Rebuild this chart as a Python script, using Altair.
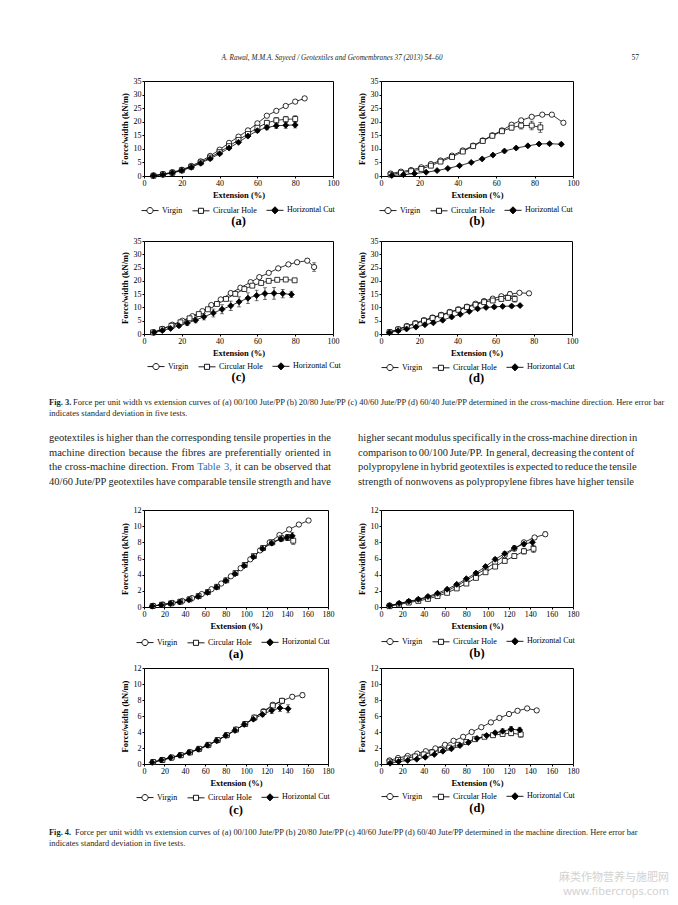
import altair as alt
import pandas as pd

NAMES = ["Virgin", "Circular Hole", "Horizontal Cut"]

# ---------------- Fig. 3 : cross-machine direction ----------------
# (a) 00/100 Jute/PP
f3a_x = [[5, 10, 15, 20, 25, 30, 35, 40, 45, 50, 55, 60, 65, 70, 75, 80, 85],
         [5, 10, 15, 20, 25, 30, 35, 40, 45, 50, 55, 60, 65, 70, 75, 80],
         [5, 10, 15, 20, 25, 30, 35, 40, 45, 50, 55, 60, 65, 70, 75, 80]]
f3a_y = [[0.2, 0.7, 1.4, 2.3, 3.7, 5.4, 7.4, 9.7, 12.2, 14.5, 16.8, 19.4, 22.2, 24.0, 25.8, 27.4, 28.6],
         [0.1, 0.6, 1.2, 2.1, 3.4, 5.0, 6.8, 8.8, 11.0, 13.3, 15.5, 17.8, 19.6, 20.5, 20.9, 21.0],
         [0.1, 0.5, 1.1, 2.0, 3.2, 4.7, 6.4, 8.2, 10.3, 12.4, 14.7, 16.7, 17.9, 18.5, 18.7, 18.8]]
f3a_e = [[0.1, 0.1, 0.15, 0.2, 0.2, 0.25, 0.3, 0.3, 0.35, 0.4, 0.4, 0.45, 0.5, 0.5, 0.55, 0.6, 0.6],
         [0.1, 0.1, 0.15, 0.2, 0.2, 0.25, 0.3, 0.35, 0.4, 0.45, 0.5, 0.6, 0.8, 1.0, 1.1, 1.2],
         [0.1, 0.1, 0.15, 0.2, 0.2, 0.25, 0.3, 0.35, 0.4, 0.5, 0.6, 0.7, 0.9, 1.0, 1.1, 1.1]]
# (b) 20/80 Jute/PP
f3b_x = [[5, 10.4, 15.7, 21, 26, 31, 37, 42.6, 48, 53, 58, 63, 68, 73, 78.5, 84, 89, 95],
         [5, 10.4, 15.7, 21, 26, 31, 37, 42.6, 48, 53, 58, 63, 68, 73, 78.5, 83],
         [5.6, 11.7, 17.4, 23.5, 29.2, 34.8, 40.9, 47, 52.7, 58.3, 64.3, 70.4, 76.5, 82.3, 87.8, 93.9]]
f3b_y = [[0.9, 1.6, 2.2, 3.2, 4.4, 5.7, 7.5, 9.4, 11.2, 13.1, 15.0, 16.8, 18.9, 20.5, 21.8, 22.6, 22.6, 19.6],
         [0.5, 1.2, 1.8, 2.6, 3.8, 5.3, 7.0, 9.0, 11.0, 12.9, 14.8, 16.5, 17.8, 18.6, 18.6, 17.9],
         [0.2, 0.5, 0.9, 1.4, 2.0, 2.8, 3.8, 5.0, 6.3, 7.7, 9.2, 10.3, 11.1, 11.8, 11.9, 11.7]]
f3b_e = [[0.1, 0.1, 0.15, 0.2, 0.2, 0.25, 0.3, 0.3, 0.35, 0.4, 0.4, 0.5, 0.6, 0.7, 0.6, 0.5, 0.5, 0.6],
         [0.1, 0.1, 0.15, 0.2, 0.2, 0.25, 0.3, 0.3, 0.35, 0.4, 0.5, 0.6, 0.8, 1.3, 1.6, 1.8],
         [0.1, 0.1, 0.1, 0.15, 0.2, 0.2, 0.25, 0.3, 0.3, 0.35, 0.4, 0.4, 0.45, 0.5, 0.5, 0.5]]
# (c) 40/60 Jute/PP
f3c_x = [[4.9, 9.7, 15, 20.3, 25.6, 30.9, 35.6, 40.6, 45.9, 51, 56.4, 61, 66, 71, 76.4, 81, 86.4, 90],
         [4.8, 9.6, 14.5, 19.3, 24.1, 29, 33.8, 38.6, 43.4, 48.3, 53.1, 57.3, 62, 66, 70.5, 75, 79.7],
         [5.3, 9.7, 14.1, 18.5, 22.9, 27.3, 31.7, 36.7, 41.3, 45.9, 50.3, 55, 59.6, 64, 68.8, 73.4, 78]]
f3c_y = [[0.6, 1.9, 3.5, 5.0, 6.7, 8.6, 10.9, 13.0, 15.4, 17.4, 19.5, 21.4, 23.0, 24.7, 26.2, 27.0, 27.6, 25.2],
         [0.6, 1.8, 3.1, 4.4, 5.9, 7.5, 9.3, 11.3, 13.2, 15.1, 16.9, 18.2, 19.2, 20.0, 20.4, 20.5, 20.2],
         [0.6, 1.3, 2.1, 3.1, 4.1, 5.2, 6.5, 7.9, 9.3, 10.6, 12.1, 13.5, 14.5, 15.2, 15.3, 15.2, 14.9]]
f3c_e = [[0.1, 0.15, 0.2, 0.25, 0.3, 0.35, 0.4, 0.45, 0.5, 0.5, 0.6, 0.6, 0.6, 0.6, 0.7, 0.7, 0.8, 1.6],
         [0.1, 0.15, 0.2, 0.25, 0.3, 0.35, 0.4, 0.45, 0.5, 0.5, 0.6, 0.6, 0.5, 0.5, 0.5, 0.5, 0.5],
         [0.2, 0.3, 0.4, 0.6, 0.8, 1.0, 1.2, 1.5, 1.7, 1.8, 1.9, 2.0, 2.0, 2.2, 2.2, 1.6, 1.2]]
# (d) 60/40 Jute/PP
f3d_x = [[4.5, 9, 13.5, 18, 22.5, 27, 31.5, 36, 40.5, 45, 49.5, 54, 58.5, 63, 67.5, 72.5, 77.5],
         [4.5, 9, 13.5, 18, 22.5, 27, 31.5, 36, 40.5, 45, 49.5, 54, 58.5, 63, 66.5, 70],
         [4.4, 9, 13.4, 18.3, 23, 27.4, 32.3, 37, 41.5, 46.2, 50.6, 55, 59.3, 63.7, 68.4, 72.8]]
f3d_y = [[0.7, 1.8, 3.0, 4.1, 5.2, 6.2, 7.2, 8.3, 9.3, 10.3, 11.4, 12.4, 13.3, 14.2, 15.0, 15.5, 15.3],
         [0.7, 1.7, 2.8, 3.9, 5.0, 6.0, 7.0, 8.1, 9.1, 10.1, 11.0, 12.0, 12.6, 13.2, 13.6, 13.2],
         [0.5, 1.2, 1.9, 2.6, 3.5, 4.2, 5.2, 6.4, 7.4, 8.5, 9.5, 10.0, 10.2, 10.4, 10.5, 10.7]]
f3d_e = [[0.1, 0.15, 0.2, 0.25, 0.3, 0.3, 0.35, 0.4, 0.4, 0.45, 0.5, 0.5, 0.6, 0.7, 1.0, 0.6, 0.6],
         [0.1, 0.15, 0.2, 0.25, 0.3, 0.3, 0.35, 0.4, 0.4, 0.45, 0.5, 0.5, 0.6, 0.7, 0.8, 1.2],
         [0.1, 0.15, 0.2, 0.25, 0.3, 0.3, 0.35, 0.4, 0.4, 0.45, 0.5, 0.5, 0.5, 0.5, 0.5, 0.5]]

# ---------------- Fig. 4 : machine direction ----------------
f4a_x = [[9, 18.5, 28, 37.5, 47, 56.5, 66, 75.5, 85, 94.5, 104, 113.5, 123, 132.5, 142, 151.5, 161],
         [8.5, 17.5, 26.5, 35.5, 44.5, 53.5, 62.5, 71.5, 80.5, 89.5, 98.5, 107.5, 116.5, 125.5, 134.5, 141, 146],
         [8, 17, 26, 35, 44, 53, 62, 71, 80, 89, 98, 107, 116, 125, 134, 140, 145]]
f4a_y = [[0.15, 0.3, 0.5, 0.75, 1.1, 1.6, 2.2, 2.9, 3.8, 4.8, 5.9, 7.0, 8.0, 8.9, 9.6, 10.2, 10.7],
         [0.12, 0.28, 0.45, 0.65, 0.95, 1.35, 1.85, 2.5, 3.3, 4.2, 5.2, 6.3, 7.3, 8.0, 8.5, 8.6, 8.2],
         [0.1, 0.25, 0.42, 0.62, 0.9, 1.3, 1.8, 2.45, 3.25, 4.1, 5.1, 6.2, 7.2, 7.9, 8.4, 8.6, 8.8]]
f4a_e = [[0.05, 0.05, 0.05, 0.05, 0.08, 0.08, 0.1, 0.1, 0.12, 0.12, 0.15, 0.15, 0.18, 0.2, 0.2, 0.2, 0.25],
         [0.05, 0.05, 0.05, 0.05, 0.08, 0.08, 0.1, 0.1, 0.12, 0.12, 0.15, 0.18, 0.2, 0.25, 0.3, 0.35, 0.45],
         [0.05, 0.05, 0.05, 0.05, 0.08, 0.08, 0.1, 0.1, 0.12, 0.12, 0.15, 0.18, 0.2, 0.25, 0.3, 0.35, 0.4]]
f4b_x = [[8, 17, 26, 35, 44, 53, 62, 71, 80, 89, 98, 107, 116, 125, 134, 144, 154],
         [8, 17, 26, 35, 44, 53, 62, 71, 80, 89, 98, 107, 116, 125, 134, 143],
         [8, 17, 26, 35, 44, 53, 62, 71, 80, 89, 98, 107, 116, 125, 134, 142]]
f4b_y = [[0.2, 0.4, 0.65, 0.9, 1.2, 1.55, 2.0, 2.6, 3.3, 4.0, 4.7, 5.5, 6.4, 7.2, 8.0, 8.6, 9.0],
         [0.1, 0.3, 0.55, 0.75, 1.0, 1.35, 1.75, 2.3, 2.9, 3.6, 4.3, 5.0, 5.7, 6.3, 6.9, 7.2],
         [0.15, 0.45, 0.7, 0.95, 1.3, 1.7, 2.2, 2.8, 3.5, 4.2, 5.0, 5.9, 6.6, 7.3, 7.8, 8.0]]
f4b_e = [[0.05, 0.05, 0.05, 0.05, 0.08, 0.08, 0.1, 0.1, 0.12, 0.12, 0.15, 0.15, 0.18, 0.2, 0.2, 0.25, 0.3],
         [0.05, 0.05, 0.05, 0.05, 0.08, 0.08, 0.1, 0.1, 0.12, 0.15, 0.18, 0.2, 0.25, 0.3, 0.35, 0.45],
         [0.05, 0.05, 0.05, 0.05, 0.08, 0.08, 0.1, 0.1, 0.12, 0.15, 0.18, 0.2, 0.25, 0.3, 0.35, 0.45]]
f4c_x = [[9, 18, 27, 36, 45, 54, 63, 72, 81, 90, 99, 108, 117, 126, 135, 145, 155],
         [9, 18, 27, 36, 45, 54, 63, 72, 81, 90, 99, 108, 117, 126, 135],
         [8, 17, 26, 35, 44, 53, 62, 71, 80, 89, 98, 107, 116, 125, 133, 141]]
f4c_y = [[0.25, 0.5, 0.8, 1.1, 1.45, 1.85, 2.35, 2.95, 3.6, 4.3, 5.0, 5.8, 6.6, 7.4, 7.9, 8.4, 8.6],
         [0.25, 0.5, 0.8, 1.1, 1.45, 1.9, 2.4, 3.0, 3.6, 4.3, 5.0, 5.8, 6.5, 7.3, 7.9],
         [0.2, 0.5, 0.8, 1.1, 1.45, 1.85, 2.35, 2.9, 3.55, 4.2, 4.95, 5.6, 6.2, 6.7, 7.0, 6.9]]
f4c_e = [[0.05, 0.05, 0.05, 0.05, 0.08, 0.08, 0.1, 0.1, 0.12, 0.12, 0.15, 0.15, 0.18, 0.2, 0.2, 0.25, 0.3],
         [0.05, 0.05, 0.05, 0.05, 0.08, 0.08, 0.1, 0.1, 0.12, 0.12, 0.15, 0.18, 0.2, 0.25, 0.3],
         [0.05, 0.05, 0.05, 0.05, 0.08, 0.08, 0.1, 0.1, 0.12, 0.15, 0.18, 0.2, 0.3, 0.4, 0.45, 0.5]]
f4d_x = [[8, 16, 25, 34, 42, 51, 60, 68, 77, 85, 94, 103, 111, 120, 128, 137, 146],
         [8, 16, 24, 32, 40, 48, 56, 64, 72, 80, 88, 97, 105, 114, 122, 131],
         [8.5, 16.5, 25, 33.5, 41.5, 50, 58, 66, 74, 82, 90, 99, 107, 114, 122, 130]]
f4d_y = [[0.45, 0.75, 1.0, 1.3, 1.6, 1.95, 2.4, 2.9, 3.4, 4.0, 4.6, 5.2, 5.75, 6.25, 6.65, 6.95, 6.7],
         [0.3, 0.5, 0.7, 0.95, 1.2, 1.45, 1.75, 2.05, 2.4, 2.75, 3.1, 3.4, 3.6, 3.75, 3.85, 3.7],
         [0.1, 0.3, 0.45, 0.6, 0.85, 1.2, 1.6, 1.9, 2.3, 2.7, 3.2, 3.55, 3.9, 4.1, 4.35, 4.25]]
f4d_e = [[0.05, 0.05, 0.05, 0.05, 0.08, 0.08, 0.1, 0.1, 0.12, 0.12, 0.15, 0.15, 0.18, 0.2, 0.2, 0.2, 0.25],
         [0.05, 0.05, 0.05, 0.05, 0.08, 0.08, 0.1, 0.1, 0.12, 0.12, 0.15, 0.18, 0.2, 0.25, 0.3, 0.35],
         [0.05, 0.05, 0.05, 0.05, 0.08, 0.08, 0.1, 0.1, 0.12, 0.12, 0.15, 0.18, 0.2, 0.3, 0.35, 0.35]]

X3_TICKS = [0, 20, 40, 60, 80, 100]
Y3_TICKS = [0, 5, 10, 15, 20, 25, 30, 35]
X4_TICKS = [0, 20, 40, 60, 80, 100, 120, 140, 160, 180]
Y4_TICKS = [0, 2, 4, 6, 8, 10, 12]
X_TITLE = "Extension (%)"
Y_TITLE = "Force/width (kN/m)"

HEADER = "A. Rawal, M.M.A. Sayeed / Geotextiles and Geomembranes 37 (2013) 54\u201360"
PAGE_NO = "57"
CAP3_BOLD = "Fig. 3."
CAP3_1 = ("Force per unit width vs extension curves of (a) 00/100 Jute/PP (b) 20/80 Jute/PP (c) 40/60 Jute/PP "
          "(d) 60/40 Jute/PP determined in the cross-machine direction. Here error bar")
CAP3_2 = "indicates standard deviation in five tests."
CAP4_BOLD = "Fig. 4."
CAP4_1 = ("Force per unit width vs extension curves of (a) 00/100 Jute/PP (b) 20/80 Jute/PP (c) 40/60 Jute/PP "
          "(d) 60/40 Jute/PP determined in the machine direction. Here error bar")
CAP4_2 = "indicates standard deviation in five tests."
LEFT_LINES = ["geotextiles is higher than the corresponding tensile properties in the",
              "machine direction because the fibres are preferentially oriented in",
              "the cross-machine direction. From Table 3, it can be observed that",
              "40/60 Jute/PP geotextiles have comparable tensile strength and have"]
LINK_WORDS = ["Table", "3,"]
RIGHT_LINES = ["higher secant modulus specifically in the cross-machine direction in",
               "comparison to 00/100 Jute/PP. In general, decreasing the content of",
               "polypropylene in hybrid geotextiles is expected to reduce the tensile",
               "strength of nonwovens as polypropylene fibres have higher tensile"]
WATERMARK = ["\u9ebb\u7c7b\u4f5c\u7269\u8425\u517b\u4e0e\u65bd\u80a5\u7f51", "www.fibercrops.com"]

SERIF = "Liberation Serif"
MARK_SHAPES = ["circle", "square", "diamond"]
MARK_FILLS = ["white", "white", "black"]
MARK_SIZES = [28, 24, 36]
LEG_PATHS = ["M-1,0H-0.36M0.36,0H1M0.36,0A0.36,0.36,0,1,1,-0.36,0A0.36,0.36,0,1,1,0.36,0Z",
             "M-1,0H-0.3M0.3,0H1M-0.3,-0.3H0.3V0.3H-0.3Z",
             "M-1,0H-0.42M0.42,0H1M0,-0.42L0.42,0L0,0.42L-0.42,0Z"]

# Times-compatible advance widths (1/1000 em) used to justify the body text
ADV = {" ": 250, ".": 250, ",": 250, "/": 278, "-": 333, "(": 333, ")": 333, ":": 278, "%": 833}
ADV.update({c: 500 for c in "0123456789"})
ADV.update(dict(zip("abcdefghijklmnopqrstuvwxyz",
                    [444, 500, 444, 500, 444, 333, 500, 500, 278, 278, 500, 278, 778, 500, 500, 500,
                     500, 333, 389, 278, 500, 500, 722, 500, 500, 444])))
ADV.update(dict(zip("ABCDEFGHIJKLMNOPQRSTUVWXYZ",
                    [722, 667, 667, 722, 611, 556, 722, 722, 333, 389, 722, 611, 889, 722, 722, 556,
                     722, 667, 556, 611, 722, 722, 944, 722, 722, 611])))


def make_df(xs, ys, es):
    rows = []
    for name, xl, yl, el in zip(NAMES, xs, ys, es):
        for xv, yv, ev in zip(xl, yl, el):
            rows.append({"series": name, "x": xv, "y": yv, "lo": yv - ev, "hi": yv + ev})
    return pd.DataFrame(rows)


def panel(xs, ys, es, xmax, xticks, ymax, yticks, w, h, letter, lx, ly, toff):
    df = make_df(xs, ys, es)
    xsc = alt.Scale(domain=[0, xmax], nice=False)
    ysc = alt.Scale(domain=[0, ymax], nice=False)
    xax = alt.Axis(values=xticks, title=X_TITLE)
    yax = alt.Axis(values=yticks, title=Y_TITLE)

    def X(f):
        return alt.X(f + ":Q", scale=xsc, axis=xax, title=X_TITLE)

    def Y(f):
        return alt.Y(f + ":Q", scale=ysc, axis=yax, title=Y_TITLE)

    base = alt.Chart(df)
    line = base.mark_line(color="black", strokeWidth=0.8).encode(x=X("x"), y=Y("y"), detail="series:N")
    rule = base.mark_rule(color="black", strokeWidth=0.7).encode(x=X("x"), y=Y("lo"), y2="hi:Q")
    cap_lo = base.mark_tick(orient="horizontal", size=4, thickness=0.7, color="black").encode(x=X("x"), y=Y("lo"))
    cap_hi = base.mark_tick(orient="horizontal", size=4, thickness=0.7, color="black").encode(x=X("x"), y=Y("hi"))
    pts = []
    for n, s, f, sz in zip(NAMES, MARK_SHAPES, MARK_FILLS, MARK_SIZES):
        pts.append(base.transform_filter(alt.datum.series == n).mark_point(
            shape=s, filled=True, fill=f, stroke="black", strokeWidth=0.8, size=sz, opacity=1
        ).encode(x=X("x"), y=Y("y")))
    leg_def = dict(title=None, orient="none", legendX=lx, legendY=ly, direction="horizontal",
                   symbolSize=289, symbolStrokeWidth=0.9, symbolOpacity=1,
                   labelFont=SERIF, labelFontSize=8, labelColor="black", labelOffset=3,
                   columnPadding=7, padding=0)
    leg = base.transform_filter("false").mark_point(
        filled=False, strokeWidth=0.9, opacity=1
    ).encode(
        shape=alt.Shape("series:N", scale=alt.Scale(domain=NAMES, range=LEG_PATHS), legend=alt.Legend(**leg_def)),
        fill=alt.Fill("series:N", scale=alt.Scale(domain=NAMES, range=MARK_FILLS), legend=alt.Legend(**leg_def)),
        stroke=alt.Stroke("series:N", scale=alt.Scale(domain=NAMES, range=["black", "black", "black"]),
                          legend=alt.Legend(**leg_def)),
    )
    return alt.layer(line, rule, cap_lo, cap_hi, *pts, leg).properties(
        width=w, height=h,
        view=alt.ViewBackground(stroke="black", strokeWidth=1),
        title=alt.TitleParams(letter, orient="bottom", offset=toff, frame="group", anchor="middle",
                              font=SERIF, fontSize=12.5, fontWeight="bold", color="black"),
    )


def spacer(w, h):
    return alt.Chart(pd.DataFrame({"t": [""]})).mark_text().encode(text="t:N").properties(width=w, height=h)


def txt(s, x, y, size, font=SERIF, weight="normal", style="normal", color="#231f20", align="left"):
    return alt.Chart(pd.DataFrame({"t": [s]})).mark_text(
        align=align, baseline="middle", font=font, fontSize=size, fontWeight=weight,
        fontStyle=style, color=color
    ).encode(text="t:N", x=alt.value(x), y=alt.value(y))


def justified(line, left, right, y, size):
    words = line.split(" ")
    widths = [sum(ADV.get(ch, 500) for ch in wd) * size / 1000.0 for wd in words]
    gap = max((right - left - sum(widths)) / (len(words) - 1), 1.8)
    xs, cur = [], left
    for wdt in widths:
        xs.append(cur)
        cur += wdt + gap
    cols = ["#2e6db4" if wd in LINK_WORDS else "#231f20" for wd in words]
    df = pd.DataFrame({"w": words, "px": xs, "col": cols})
    return alt.Chart(df).mark_text(align="left", baseline="middle", font=SERIF, fontSize=size).encode(
        text="w:N", x=alt.X("px:Q", scale=None), y=alt.value(y), color=alt.Color("col:N", scale=None))


def text_row(layers, h):
    return [alt.layer(*layers).properties(width=135, height=h), spacer(1, h), spacer(1, h), spacer(1, h)]


# ---------------- layout (layout coordinate = page coordinate - 8) ----------------
header_layers = [
    txt(HEADER, 323, 49, 7.2, style="italic", align="center"),
    txt(PAGE_NO, 630, 49, 7.6, align="right"),
]

p3a = panel(f3a_x, f3a_y, f3a_e, 100, X3_TICKS, 35, Y3_TICKS, 189, 95, "(a)", -3, 120, -1)
p3b = panel(f3b_x, f3b_y, f3b_e, 100, X3_TICKS, 35, Y3_TICKS, 192, 95, "(b)", -2, 120, -1)
p3c = panel(f3c_x, f3c_y, f3c_e, 100, X3_TICKS, 35, Y3_TICKS, 189, 93, "(c)", 3, 116, -1)
p3d = panel(f3d_x, f3d_y, f3d_e, 100, X3_TICKS, 35, Y3_TICKS, 191, 93, "(d)", 0, 117, -1)
p4a = panel(f4a_x, f4a_y, f4a_e, 180, X4_TICKS, 12, Y4_TICKS, 184, 97, "(a)", -8, 123, 0)
p4b = panel(f4b_x, f4b_y, f4b_e, 180, X4_TICKS, 12, Y4_TICKS, 192, 97, "(b)", 0, 122, 0)
p4c = panel(f4c_x, f4c_y, f4c_e, 180, X4_TICKS, 12, Y4_TICKS, 184, 96, "(c)", -8, 120, 1)
p4d = panel(f4d_x, f4d_y, f4d_e, 180, X4_TICKS, 12, Y4_TICKS, 192, 96, "(d)", 0, 119, 0)

mid_layers = [
    txt(CAP3_BOLD, 40, 68, 8.5, weight="bold"),
    txt(CAP3_1, 64, 68, 8.5),
    txt(CAP3_2, 40, 79, 8.5),
]
ys_par = [104, 119, 133, 148]
PS = 10.5
for i, yv in enumerate(ys_par):
    mid_layers.append(justified(LEFT_LINES[i], 40, 322, yv, PS))
    mid_layers.append(justified(RIGHT_LINES[i], 349, 625, yv, PS))

bottom_layers = [
    txt(CAP4_BOLD, 40, 68, 8.4, weight="bold"),
    txt(CAP4_1, 66, 68, 8.4),
    txt(CAP4_2, 40, 79, 8.4),
    txt(WATERMARK[0], 660, 114, 11, font="Noto Sans CJK SC", color="#d2d2d2", align="right"),
    txt(WATERMARK[1], 660, 128, 11, font="Noto Sans", color="#d2d2d2", align="right"),
]

cells = []
cells += text_row(header_layers, 72)
cells += [spacer(135, 95), p3a, spacer(43, 95), p3b]
cells += [spacer(135, 65), spacer(1, 65), spacer(1, 65), spacer(1, 65)]
cells += [spacer(135, 93), p3c, spacer(43, 93), p3d]
cells += text_row(mid_layers, 176)
cells += [spacer(133, 97), p4a, spacer(48, 97), p4b]
cells += [spacer(133, 61), spacer(1, 61), spacer(1, 61), spacer(1, 61)]
cells += [spacer(133, 96), p4c, spacer(48, 96), p4d]
cells += text_row(bottom_layers, 120)

chart = alt.concat(
    *cells, columns=4, spacing=0, bounds="flush", align="none"
).resolve_scale(shape="independent", fill="independent", stroke="independent").resolve_legend(
    shape="independent", fill="independent", stroke="independent"
).properties(padding=0).configure(
    background="white"
).configure_view(stroke="transparent").configure_axis(
    labelFont=SERIF, labelFontSize=8, labelColor="black", titleFont=SERIF, titleFontSize=8.5,
    titleFontWeight="bold", titleColor="black", domain=False, grid=False, tickColor="black",
    tickSize=2, labelPadding=1, labelFlush=False, labelOverlap=False
).configure_axisX(titlePadding=3).configure_axisY(titlePadding=4)

chart.save("out.html", embed_options={"renderer": "svg", "actions": False})
